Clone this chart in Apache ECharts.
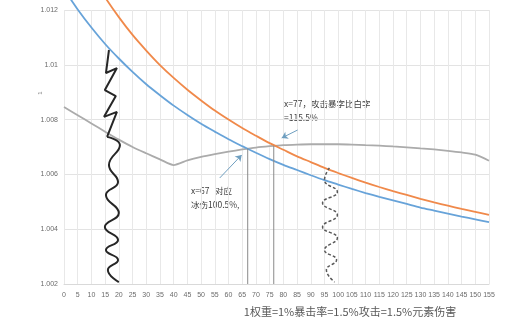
<!DOCTYPE html>
<html><head><meta charset="utf-8">
<script src="https://cdn.jsdelivr.net/npm/echarts@6/dist/echarts.min.js"></script>
<style>html,body{margin:0;padding:0;background:#fff}#c{width:527px;height:325px}</style>
</head><body><div id="c"></div>
<script>
const xTicks = [0,5,10,15,20,25,30,35,40,45,50,55,60,65,70,75,80,85,90,95,100,105,110,115,120,125,130,135,140,145,150,155];
const blueVals = [1.01276,1.01202,1.01136,1.01076,1.01023,1.00974,1.00929,1.00889,1.00851,1.00817,1.00785,1.00756,1.00728,1.00703,1.00679,1.00656,1.00635,1.00616,1.00597,1.00579,1.00563,1.00547,1.00532,1.00518,1.00505,1.00492,1.00479,1.00468,1.00457,1.00446,1.00436,1.00426];
const orangeVals = [1.01528,1.01421,1.01328,1.01246,1.01174,1.01109,1.01052,1.00999,1.00952,1.00909,1.00870,1.00833,1.00800,1.00769,1.00741,1.00714,1.00690,1.00666,1.00645,1.00624,1.00605,1.00587,1.00570,1.00554,1.00539,1.00525,1.00511,1.00498,1.00486,1.00474,1.00463,1.00452];
const grayVals = [1.00846,1.00816,1.00786,1.00756,1.00727,1.00700,1.00677,1.00655,1.00634,1.00651,1.00664,1.00674,1.00683,1.00691,1.00698,1.00703,1.00707,1.00709,1.00710,1.00710,1.00710,1.00709,1.00707,1.00705,1.00702,1.00699,1.00695,1.00691,1.00686,1.00680,1.00672,1.00650];
const zigzagTop = [[16.4,1.01054],[15.3,1.00970],[19.3,1.00988],[14.9,1.00908],[18.9,1.00886],[14.6,1.00810],[19.3,1.00828],[15.7,1.00737]];
const waveBottom = [[15.7,1.00737],[20.4,1.00707],[16.4,1.00634],[19.7,1.00572],[15.3,1.00525],[20.0,1.00459],[14.9,1.00408],[19.7,1.00361],[15.3,1.00324],[19.7,1.00288],[16.0,1.00251],[20.0,1.00207]];
const dottedWave = [[96.8,1.00624],[95.0,1.00580],[99.7,1.00536],[94.3,1.00496],[99.7,1.00452],[94.3,1.00408],[99.7,1.00368],[95.0,1.00324],[99.4,1.00288],[95.7,1.00251],[98.7,1.00207]];
const vLine67 = [[67,1.00695],[67,1.002]];
const vLine77 = [[76.5,1.00705],[76.5,1.002]];
const arrow77 = [[85.2,1.00762],[79.4,1.00733]];
const arrow67 = [[56.8,1.00587],[64.8,1.00671]];
const yTicks = ['1.002','1.004','1.006','1.008','1.01','1.012'];
const note77 = ['x=77，攻击暴字比白字','=115.5%'];
const note67 = ['x=67   对应','冰伤100.5%,'];
const titleText = '1权重=1%暴击率=1.5%攻击=1.5%元素伤害';

const pair = (xs, ys) => xs.map((x,i)=>[x, ys[i]]);
const cjk = '"Noto Sans CJK SC", "Noto Sans", sans-serif';
const chart = echarts.init(document.getElementById('c'), null, {renderer:'canvas'});
const lineBase = {type:'line', symbol:'none', clip:false, silent:true};
chart.setOption({
  animation:false,
  backgroundColor:'#ffffff',
  grid:{left:64, right:38, top:10, bottom:41},
  xAxis:{type:'value', min:0, max:155, interval:5,
    axisLine:{show:true, lineStyle:{color:'#d9d9d9'}}, axisTick:{show:false},
    axisLabel:{fontSize:7, color:'#6b6b6b', margin:8, fontFamily:'sans-serif'},
    splitLine:{show:true, lineStyle:{color:'#e8e8e8', width:1}}},
  yAxis:{type:'value', min:1.002, max:1.012, interval:0.002,
    axisLine:{show:false}, axisTick:{show:false},
    axisLabel:{fontSize:7, color:'#6b6b6b', margin:6, fontFamily:'sans-serif',
      formatter:(v)=>{const s=yTicks.find(t=>Math.abs(parseFloat(t)-v)<1e-7);return s||'';}},
    splitLine:{show:true, lineStyle:{color:'#e3e3e3', width:1}}},
  graphic:[
    {type:'text', left:284, top:100, style:{text:note77[0], fontSize:8.5, fill:'#404040', fontFamily:cjk}},
    {type:'text', left:284, top:114, style:{text:note77[1], fontSize:8.5, fill:'#404040', fontFamily:cjk}},
    {type:'text', left:191, top:187, style:{text:note67[0], fontSize:8.5, fill:'#404040', fontFamily:cjk}},
    {type:'text', left:191, top:201, style:{text:note67[1], fontSize:8.5, fill:'#404040', fontFamily:cjk}},
    {type:'text', x:350, y:312, style:{text:titleText, fontSize:11, fill:'#595959', fontFamily:cjk, align:'center', verticalAlign:'middle'}},
    {type:'text', x:40, y:93, rotation:Math.PI/2, style:{text:'1', fontSize:6, fill:'#808080', align:'center', verticalAlign:'middle'}}
  ],
  series:[
    Object.assign({}, lineBase, {name:'gray', data:pair(xTicks, grayVals), smooth:0.25, lineStyle:{color:'#ababab', width:1.8}}),
    Object.assign({}, lineBase, {name:'orange', data:pair(xTicks, orangeVals), smooth:0.3, lineStyle:{color:'#f0894a', width:1.8}}),
    Object.assign({}, lineBase, {name:'blue', data:pair(xTicks, blueVals), smooth:0.3, lineStyle:{color:'#67a3d9', width:1.8}}),
    Object.assign({}, lineBase, {name:'v67', data:vLine67, lineStyle:{color:'#8a8a8a', width:1},
      markLine:{silent:true, symbol:['none','arrow'], symbolSize:6, label:{show:false},
        lineStyle:{color:'#6f9fc0', width:1, type:'solid'},
        data:[[{coord:arrow77[0]},{coord:arrow77[1]}],[{coord:arrow67[0]},{coord:arrow67[1]}]]}}),
    Object.assign({}, lineBase, {name:'v77', data:vLine77, lineStyle:{color:'#8a8a8a', width:1}}),
    Object.assign({}, lineBase, {name:'zigzag', data:zigzagTop, lineStyle:{color:'#262626', width:2}}),
    Object.assign({}, lineBase, {name:'wave', data:waveBottom, smooth:0.5, lineStyle:{color:'#262626', width:2}}),
    Object.assign({}, lineBase, {name:'dotted', data:dottedWave, smooth:0.5, lineStyle:{color:'#595959', width:1.5, type:[3,2]}})
  ]
});
</script></body></html>
